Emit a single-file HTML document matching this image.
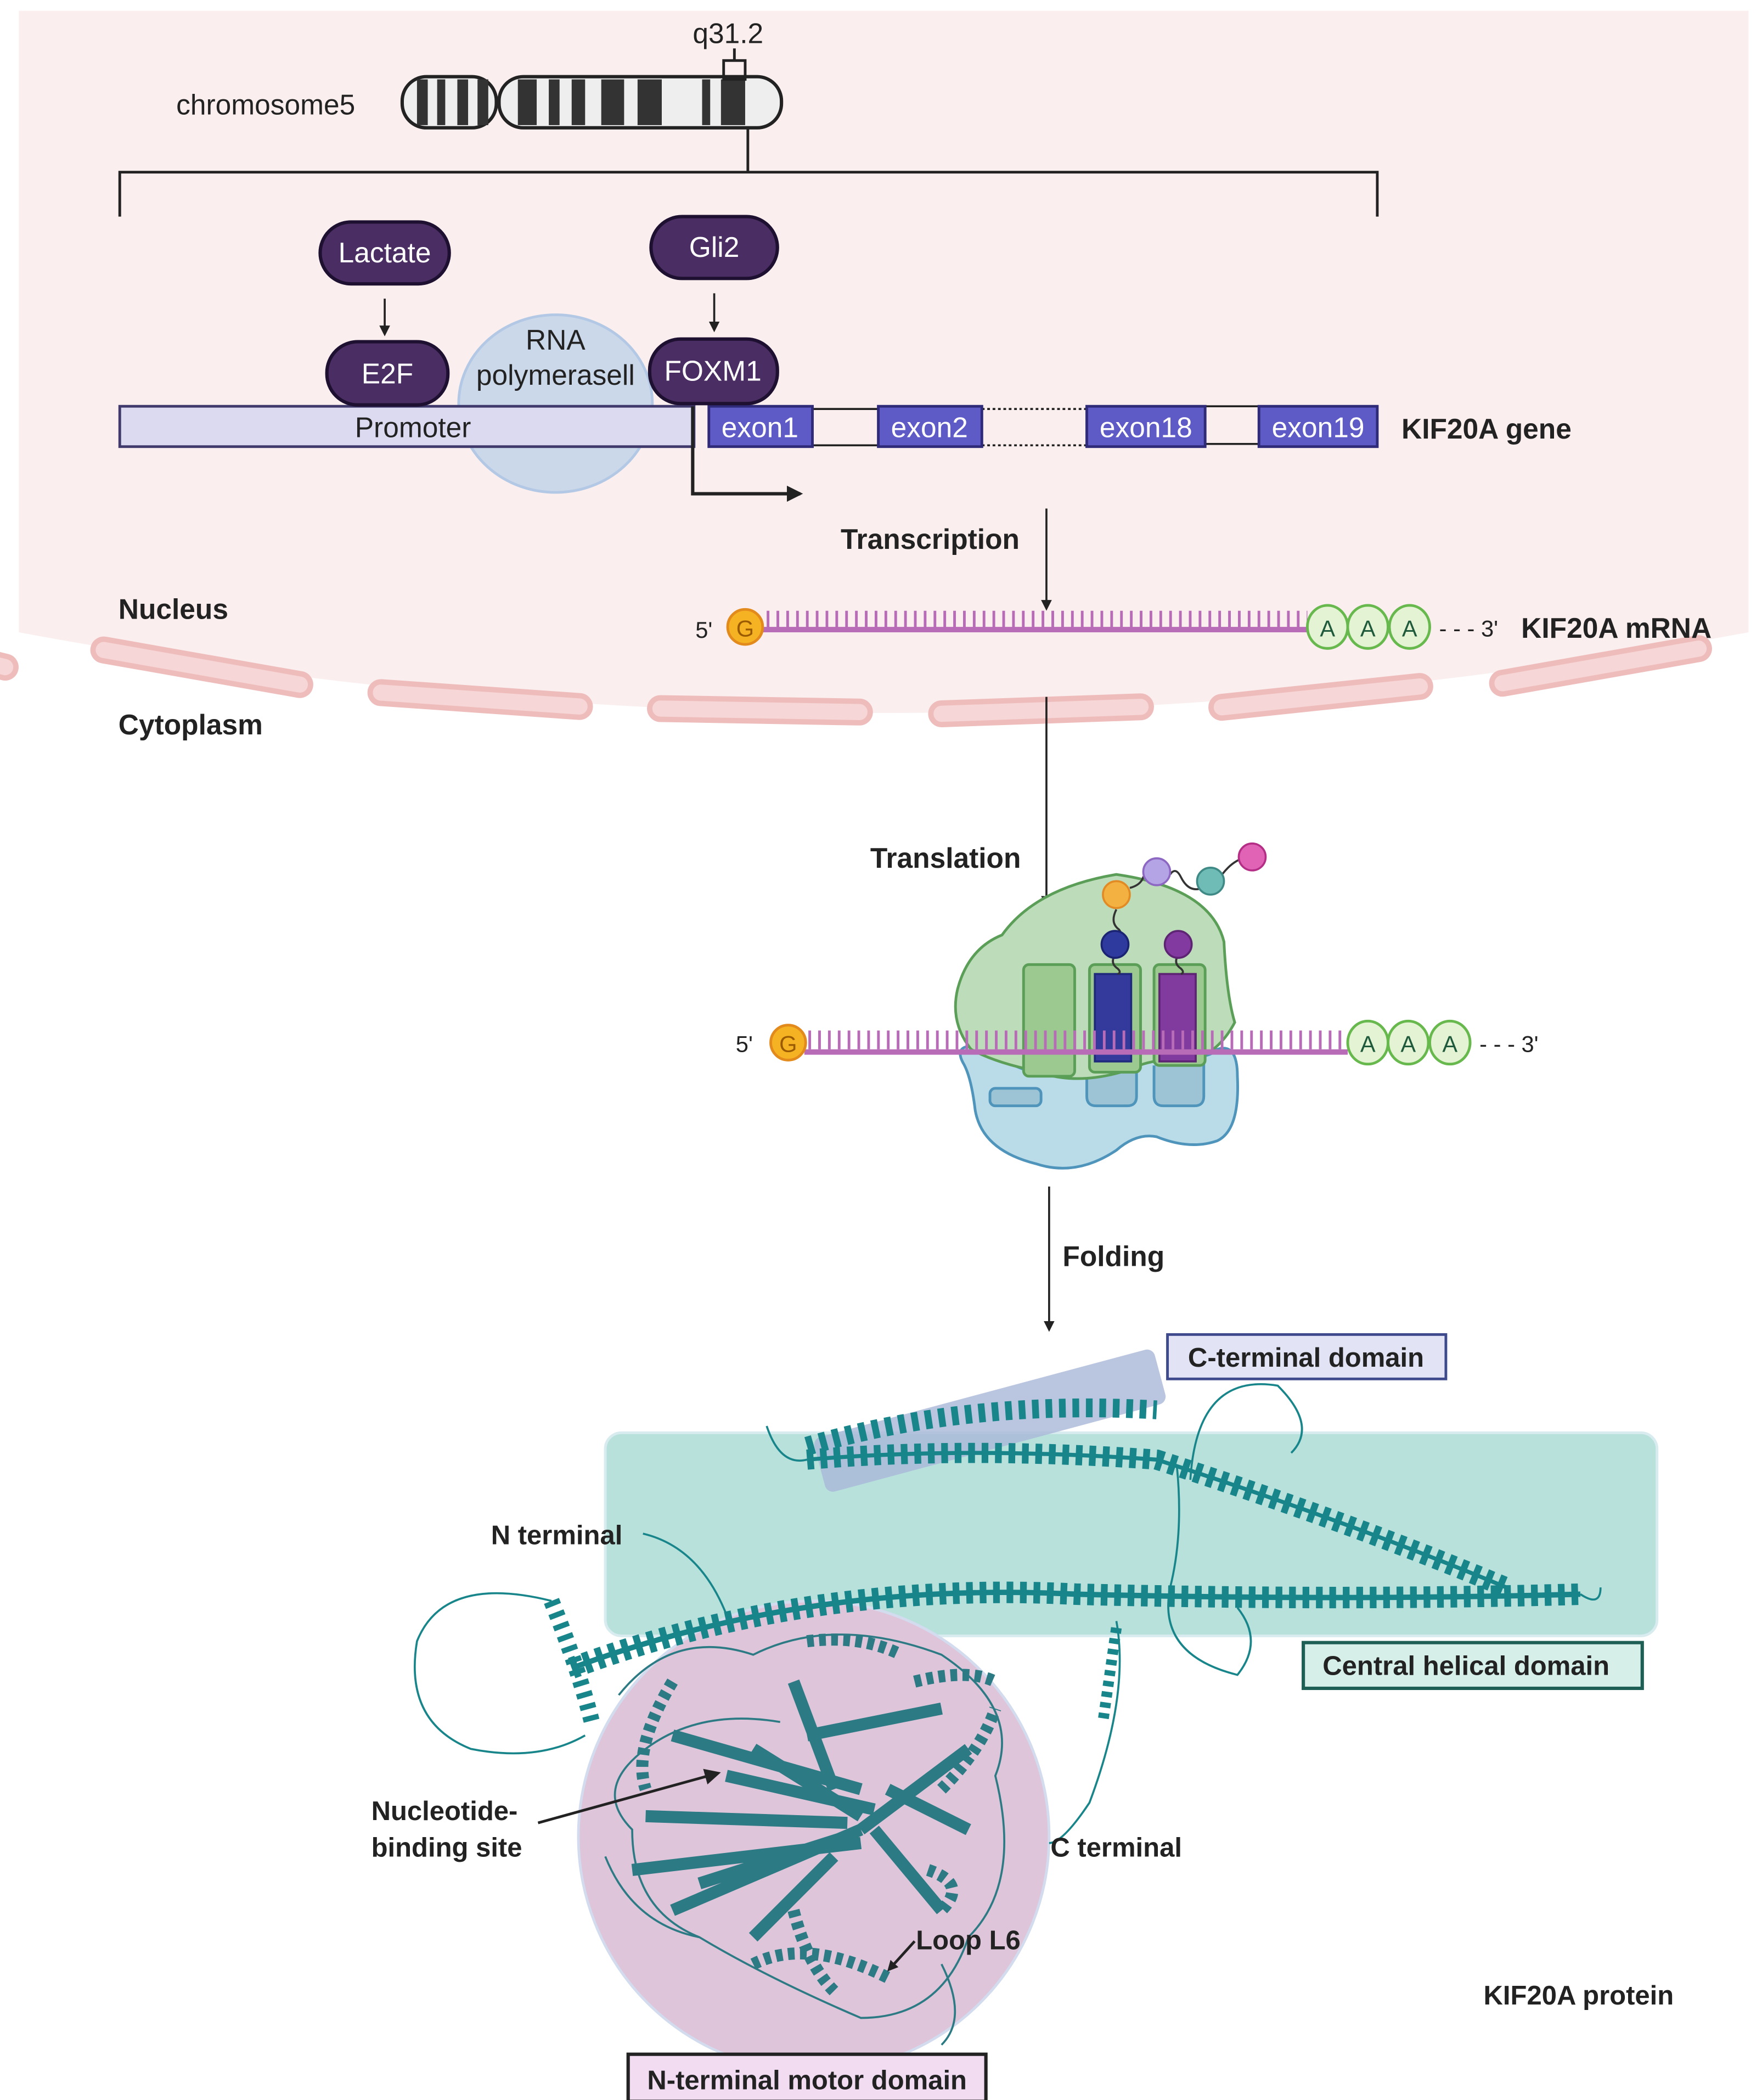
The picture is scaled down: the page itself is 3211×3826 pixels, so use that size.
<!DOCTYPE html>
<html><head><meta charset="utf-8"><style>html,body{margin:0;padding:0;background:#fff}svg{display:block}text{font-family:"Liberation Sans",sans-serif}</style></head><body>
<svg width="3211" height="3826" viewBox="0 0 1310 1561" xmlns="http://www.w3.org/2000/svg">
<defs><marker id="ar" markerWidth="8" markerHeight="8" refX="6" refY="4" orient="auto" markerUnits="userSpaceOnUse"><path d="M0,0 L8,4 L0,8 z" fill="#222"/></marker>
<marker id="ar2" markerWidth="12" markerHeight="12" refX="10" refY="6" orient="auto" markerUnits="userSpaceOnUse"><path d="M0,0 L12,6 L0,12 z" fill="#222"/></marker></defs>
<path d="M14,8 H1300 V470 Q655,590 14,470 Z" fill="#faefee"/>
<g fill="#f6d6d6" stroke="#efbcbc" stroke-width="4">
<rect x="68" y="488" width="164" height="16" rx="8" transform="rotate(10 150 496)"/>
<rect x="275" y="512" width="164" height="16" rx="8" transform="rotate(4 357 520)"/>
<rect x="483" y="520" width="164" height="16" rx="8" transform="rotate(1 565 528)"/>
<rect x="692" y="520" width="164" height="16" rx="8" transform="rotate(-2 774 528)"/>
<rect x="900" y="510" width="164" height="16" rx="8" transform="rotate(-6 982 518)"/>
<rect x="1108" y="487" width="164" height="16" rx="8" transform="rotate(-10 1190 495)"/>
<rect x="-150" y="470" width="164" height="16" rx="8" transform="rotate(14 -68 478)"/>
</g>
<text x="131" y="85" font-size="21" fill="#222">chromosome5</text>
<text x="515" y="32" font-size="21" fill="#222">q31.2</text>
<g stroke="#222" stroke-width="2.5">
<rect x="299" y="57" width="70" height="38" rx="18" fill="#eee"/>
<rect x="371" y="57" width="210" height="38" rx="18" fill="#eee"/>
</g>
<g fill="#333">
<rect x="310" y="59" width="8" height="34"/><rect x="325" y="59" width="6" height="34"/><rect x="340" y="59" width="8" height="34"/><rect x="355" y="59" width="8" height="34"/>
<rect x="385" y="59" width="14" height="34"/><rect x="408" y="59" width="8" height="34"/><rect x="425" y="59" width="10" height="34"/><rect x="447" y="59" width="17" height="34"/><rect x="474" y="59" width="18" height="34"/><rect x="522" y="59" width="6" height="34"/><rect x="536" y="59" width="18" height="34"/>
</g>
<g fill="none" stroke="#222" stroke-width="2">
<rect x="538" y="45" width="16" height="14"/><line x1="546" y1="36" x2="546" y2="45"/>
<line x1="556" y1="95" x2="556" y2="128"/>
<path d="M89,161 V128 H1024 V161"/>
</g>
<ellipse cx="413" cy="300" rx="72" ry="66" fill="#cbd8ea" stroke="#b3c8e4" stroke-width="2"/>
<rect x="89" y="302" width="427" height="30" fill="#dcdaf1" stroke="#3f3a6b" stroke-width="2"/>
<text x="307" y="325" font-size="21" text-anchor="middle" fill="#222">Promoter</text>
<g stroke="#222" stroke-width="1.5" fill="none"><path d="M604,304 H653 M604,331 H653 M896,302 H936 M896,330 H936"/><path d="M730,304 H808 M730,331 H808" stroke-dasharray="2 2"/></g>
<g fill="#5e5ac6" stroke="#2f2b78" stroke-width="2">
<rect x="527" y="302" width="77" height="30"/><rect x="653" y="302" width="77" height="30"/><rect x="808" y="302" width="88" height="30"/><rect x="936" y="302" width="88" height="30"/>
</g>
<g font-size="21" fill="#fff" text-anchor="middle"><text x="565" y="325">exon1</text><text x="691" y="325">exon2</text><text x="852" y="325">exon18</text><text x="980" y="325">exon19</text></g>
<text x="1042" y="326" font-size="21" font-weight="bold" fill="#222">KIF20A gene</text>
<text x="413" y="260" font-size="21" text-anchor="middle" fill="#222">RNA</text>
<text x="413" y="286" font-size="21" text-anchor="middle" fill="#222">polymerasell</text>
<path d="M515,302 V367 H595" fill="none" stroke="#222" stroke-width="2.5" marker-end="url(#ar2)"/>
<g fill="#4a2d62" stroke="#1e1030" stroke-width="2.5">
<rect x="238" y="165" width="96" height="46" rx="23"/><rect x="484" y="161" width="94" height="46" rx="23"/>
<rect x="243" y="254" width="90" height="47" rx="23"/><rect x="483" y="252" width="95" height="48" rx="23"/>
</g>
<g font-size="21" fill="#fff" text-anchor="middle"><text x="286" y="195">Lactate</text><text x="531" y="191">Gli2</text><text x="288" y="285">E2F</text><text x="530" y="283">FOXM1</text></g>
<g stroke="#222" stroke-width="1.5"><line x1="286" y1="222" x2="286" y2="248" marker-end="url(#ar)"/><line x1="531" y1="218" x2="531" y2="245" marker-end="url(#ar)"/></g>
<line x1="778" y1="378" x2="778" y2="452" stroke="#222" stroke-width="1.5" marker-end="url(#ar)"/>
<text x="625" y="408" font-size="21" font-weight="bold" fill="#222">Transcription</text>
<text x="88" y="460" font-size="21" font-weight="bold" fill="#222">Nucleus</text>
<text x="88" y="546" font-size="21" font-weight="bold" fill="#222">Cytoplasm</text>
<line x1="566" y1="468" x2="972" y2="468" stroke="#b86bb6" stroke-width="4"/>
<line x1="570" y1="461" x2="972" y2="461" stroke="#b86bb6" stroke-width="14" stroke-dasharray="2 5.3"/>
<circle cx="554" cy="466" r="13" fill="#f5b323" stroke="#e38a1c" stroke-width="2"/><text x="554" y="473" font-size="17" text-anchor="middle" fill="#9a5a00">G</text>
<text x="517" y="474" font-size="17" fill="#222">5'</text>
<g fill="#e4f3d3" stroke="#67b84d" stroke-width="2"><ellipse cx="987" cy="466" rx="15" ry="16"/><ellipse cx="1017" cy="466" rx="15" ry="16"/><ellipse cx="1048" cy="466" rx="15" ry="16"/></g>
<g font-size="17" fill="#1f5a3c" text-anchor="middle"><text x="987" y="473">A</text><text x="1017" y="473">A</text><text x="1048" y="473">A</text></g>
<text x="1070" y="473" font-size="17" fill="#222">- - - 3'</text>
<text x="1131" y="474" font-size="21" font-weight="bold" fill="#222">KIF20A mRNA</text>
<line x1="778" y1="518" x2="778" y2="672" stroke="#222" stroke-width="1.5" marker-end="url(#ar)"/>
<text x="647" y="645" font-size="21" font-weight="bold" fill="#222">Translation</text>
<!-- small subunit -->
<path d="M716,790 Q708,775 730,778 Q745,790 770,798 Q800,805 840,790 Q860,778 875,780 Q895,790 905,780 Q920,775 920,800 Q922,840 905,848 Q885,855 860,845 Q845,842 830,855 Q800,875 770,865 Q730,855 725,825 Q722,800 716,790 Z" fill="#b9dce8" stroke="#4f94bb" stroke-width="2"/>
<g fill="#9cc4d4" stroke="#4f94bb" stroke-width="2"><rect x="736" y="809" width="38" height="13" rx="4"/><path d="M808,796 V815 Q808,822 815,822 H838 Q845,822 845,815 V790"/><path d="M858,792 V815 Q858,822 865,822 H888 Q895,822 895,815 V784"/></g>
<path d="M770,796 Q740,790 722,780 Q706,760 712,735 Q720,705 745,695 Q770,660 830,650 Q900,660 910,700 Q912,740 918,760 Q905,785 880,790 Q860,785 840,795 Q800,808 770,796 Z" fill="#bddcb9" stroke="#5b9e57" stroke-width="2"/>
<g fill="#9bc98f" stroke="#5b9e57" stroke-width="2"><rect x="761" y="717" width="38" height="83" rx="4"/><rect x="810" y="717" width="38" height="80" rx="4"/><rect x="858" y="717" width="38" height="75" rx="4"/></g>
<rect x="814" y="724" width="27" height="65" fill="#333a9c" stroke="#202a7c" stroke-width="1.5"/>
<rect x="862" y="724" width="27" height="65" fill="#813a9e" stroke="#5d2473" stroke-width="1.5"/>
<g fill="none" stroke="#333" stroke-width="1.5"><path d="M830,676 q-5,10 2,15 q4,5 -2,12"/><path d="M829,710 q-4,6 2,10 q3,3 0,4"/><path d="M876,710 q-4,6 2,10 q3,3 0,4"/><path d="M840,660 q8,-2 10,-8 q4,-6 10,-6 M870,650 q4,-6 8,2 q6,12 16,8 M905,655 q4,-6 8,-10 q6,-6 14,-8"/></g>
<g stroke-width="1.5"><circle cx="830" cy="665" r="10" fill="#f2b140" stroke="#e28b25"/><circle cx="860" cy="648" r="10" fill="#b4a4e6" stroke="#8c68c2"/><circle cx="900" cy="655" r="10" fill="#6fbbb5" stroke="#3f8a86"/><circle cx="931" cy="637" r="10" fill="#e063b6" stroke="#b52e86"/><circle cx="829" cy="702" r="10" fill="#2e3a9d" stroke="#1a2473"/><circle cx="876" cy="702" r="10" fill="#823aa1" stroke="#5d2473"/></g>
<line x1="598" y1="782" x2="1002" y2="782" stroke="#b86bb6" stroke-width="4"/>
<line x1="601" y1="773" x2="1002" y2="773" stroke="#b86bb6" stroke-width="14" stroke-dasharray="2 5.3"/>
<circle cx="586" cy="775" r="13" fill="#f5b323" stroke="#e38a1c" stroke-width="2"/><text x="586" y="782" font-size="17" text-anchor="middle" fill="#9a5a00">G</text>
<text x="547" y="782" font-size="17" fill="#222">5'</text>
<g fill="#e4f3d3" stroke="#67b84d" stroke-width="2"><ellipse cx="1017" cy="775" rx="15" ry="16"/><ellipse cx="1047" cy="775" rx="15" ry="16"/><ellipse cx="1078" cy="775" rx="15" ry="16"/></g>
<g font-size="17" fill="#1f5a3c" text-anchor="middle"><text x="1017" y="782">A</text><text x="1047" y="782">A</text><text x="1078" y="782">A</text></g>
<text x="1100" y="782" font-size="17" fill="#222">- - - 3'</text>
<line x1="780" y1="882" x2="780" y2="988" stroke="#222" stroke-width="1.5" marker-end="url(#ar)"/>
<text x="790" y="941" font-size="21" font-weight="bold" fill="#222">Folding</text>
<rect x="450" y="1065" width="782" height="151" rx="12" fill="#b8e1dc" stroke="#d8ecf0" stroke-width="2"/>
<circle cx="605" cy="1365" r="175" fill="#dec5d9" stroke="#d3dcee" stroke-width="2"/>
<rect x="605" y="1035" width="262" height="42" rx="6" fill="#a9b8d8" opacity="0.8" transform="rotate(-15 736 1056)"/>
<g fill="none" stroke="#17858a">
<path d="M425,1240 Q600,1175 800,1185 Q1000,1190 1175,1185" stroke-width="4"/>
<path d="M425,1240 Q600,1175 800,1185 Q1000,1190 1175,1185" stroke-width="16" stroke-dasharray="5 5"/>
<path d="M600,1085 Q720,1075 860,1085 Q1000,1130 1120,1180" stroke-width="3"/>
<path d="M600,1085 Q720,1075 860,1085 Q1000,1130 1120,1180" stroke-width="15" stroke-dasharray="5 5"/>
<path d="M600,1075 Q720,1040 860,1048" stroke-width="14" stroke-dasharray="5 5"/>
<path d="M410,1190 Q430,1240 440,1280" stroke-width="12" stroke-dasharray="4 5"/>
<path d="M478,1140 Q520,1150 540,1200 M410,1190 Q330,1170 310,1220 Q300,1280 350,1300 Q400,1310 435,1290 M830,1205 Q840,1260 810,1340 Q790,1370 780,1370 M875,1090 Q880,1140 870,1180 Q860,1230 920,1245 Q940,1220 920,1195 M885,1100 Q890,1020 950,1030 Q980,1060 960,1080 M1175,1185 Q1190,1195 1190,1180 M570,1060 Q580,1090 600,1085" stroke-width="1.5"/>
<path d="M830,1210 L820,1280" stroke-width="8" stroke-dasharray="4 4"/>
</g>
<g fill="none" stroke="#2b7a84" stroke-width="9">
<path d="M500,1290 L640,1330 M480,1350 L630,1355 M470,1390 L640,1370 M500,1420 L640,1360 M560,1300 L640,1350 M590,1250 L620,1330 M640,1360 L720,1300 M650,1360 L700,1420 M560,1440 L620,1380 M540,1320 L650,1345 M520,1400 L630,1365 M600,1290 L700,1270 M660,1330 L720,1360"/>
<path d="M560,1460 Q600,1440 660,1470 M690,1390 Q720,1400 700,1420 M680,1250 Q720,1240 740,1250 M500,1250 Q470,1300 480,1330 M600,1220 Q640,1215 670,1230 M590,1420 Q600,1460 620,1480 M700,1330 Q730,1300 740,1270" stroke-dasharray="5 4"/>
</g>
<g fill="none" stroke="#2b7a84" stroke-width="1.5"><path d="M460,1260 Q500,1210 560,1230 Q620,1200 700,1230 Q760,1270 740,1320 Q760,1400 720,1440 Q700,1500 640,1500 Q570,1470 520,1440 Q470,1420 470,1360 Q440,1330 480,1300 Q520,1270 580,1280 M450,1380 Q470,1430 520,1440 M700,1460 Q720,1500 700,1520"/></g>
<rect x="868" y="992" width="207" height="33" fill="#e2e4f6" stroke="#3f4a8c" stroke-width="2"/>
<text x="971" y="1016" font-size="20" font-weight="bold" text-anchor="middle" fill="#222">C-terminal domain</text>
<rect x="969" y="1221" width="252" height="34" fill="#d6efe9" stroke="#1d5e55" stroke-width="2.5"/>
<text x="1090" y="1245" font-size="20" font-weight="bold" text-anchor="middle" fill="#222">Central helical domain</text>
<rect x="467" y="1527" width="266" height="35" fill="#f1dcf2" stroke="#222" stroke-width="2.5"/>
<text x="600" y="1553" font-size="20" font-weight="bold" text-anchor="middle" fill="#222">N-terminal motor domain</text>
<text x="365" y="1148" font-size="20" font-weight="bold" fill="#222">N terminal</text>
<text x="276" y="1353" font-size="20" font-weight="bold" fill="#222">Nucleotide-</text>
<text x="276" y="1380" font-size="20" font-weight="bold" fill="#222">binding site</text>
<line x1="400" y1="1355" x2="534" y2="1318" stroke="#222" stroke-width="2" marker-end="url(#ar2)"/>
<text x="781" y="1380" font-size="20" font-weight="bold" fill="#222">C terminal</text>
<text x="681" y="1449" font-size="20" font-weight="bold" fill="#222">Loop L6</text>
<line x1="680" y1="1443" x2="661" y2="1464" stroke="#222" stroke-width="2" marker-end="url(#ar)"/>
<text x="1103" y="1490" font-size="20" font-weight="bold" fill="#222">KIF20A protein</text>
</svg>
</body></html>
